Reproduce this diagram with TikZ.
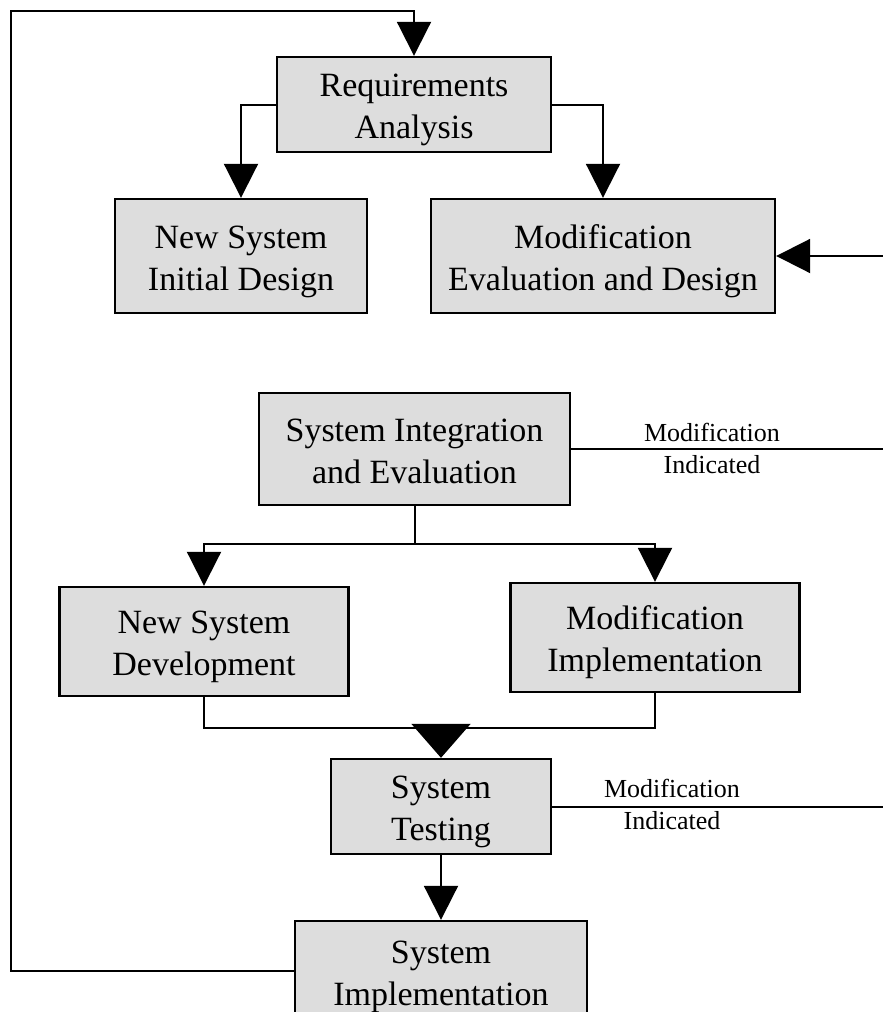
\documentclass[tikz,border=0pt]{standalone}
\usepackage{fontspec}
\setmainfont{Liberation Serif}
\usetikzlibrary{arrows.meta}
\definecolor{boxgray}{HTML}{DDDDDD}
\newcommand{\twoline}[2]{\begin{tabular}[t]{@{}c@{}}#1\\#2\end{tabular}}
\begin{document}
\begin{tikzpicture}[x=1pt,y=-1pt,
  box/.style={draw=black, line width=2.4pt, fill=boxgray, inner sep=0pt,
              font=\fontsize{34}{42}\selectfont, text height=30pt, text depth=46pt},
  conn/.style={line width=2pt, draw=black},
  arr/.style={conn, -{Triangle[length=34pt,width=34pt]}},
  bigarr/.style={conn, -{Triangle[length=34pt,width=59pt]}},
  lbl/.style={align=center, font=\fontsize{26}{32}\selectfont, anchor=base, inner sep=0pt}]
\useasboundingbox (0,0) rectangle (883,1012);
\clip (0,0) rectangle (883,1012);

\node[box, minimum width=274pt, minimum height=95pt]  (ra)   at (414,104.5) {\twoline{Requirements}{Analysis}};
\node[box, minimum width=252pt, minimum height=114pt] (nsid) at (241,256)   {\twoline{New System}{Initial Design}};
\node[box, minimum width=344pt, minimum height=114pt] (med)  at (603,256)   {\twoline{Modification}{Evaluation and Design}};
\node[box, minimum width=311pt, minimum height=112pt] (sie)  at (414.5,449) {\twoline{System Integration}{and Evaluation}};
\node[box, minimum width=289pt, minimum height=109pt] (nsd)  at (204,641.5) {\twoline{New System}{Development}};
\node[box, minimum width=289pt, minimum height=109pt] (mi)   at (655,637.5) {\twoline{Modification}{Implementation}};
\node[box, minimum width=220pt, minimum height=95pt]  (st)   at (441,806.5) {\twoline{System}{Testing}};
\node[box, minimum width=292pt, minimum height=100pt] (si)   at (441,971)   {\twoline{System}{Implementation}};

\coordinate (loopL) at (11,11);
\coordinate (rx)    at (905,0);
\coordinate (split) at (414.5,544);
\coordinate (merge) at (441,728);

% loop back to requirements
\draw[arr] (si.west) -| (loopL) -| (ra.north);
% requirements branches
\draw[arr] (ra.west) -| (nsid.north);
\draw[arr] (ra.east) -| (med.north);
% modification indicated feedback
\draw[arr] (st.east) -- (st.east -| rx) |- (med.east);
\draw[conn] (sie.east) -- (sie.east -| rx);
% split after integration
\draw[conn] (sie.south) -- (split);
\draw[arr] (split) -| (nsd.north);
\draw[arr] (split) -| (mi.north);
% merge into testing
\draw[conn] (nsd.south) |- (merge) -| (mi.south);
\draw[bigarr] (merge) -- (st.north);
% testing to implementation
\draw[arr] (st.south) -- (si.north);

\node[lbl] (l1) at (712,473) {Modification\\Indicated};
\node[lbl] (l2) at (672,829) {Modification\\Indicated};
\end{tikzpicture}
\end{document}
